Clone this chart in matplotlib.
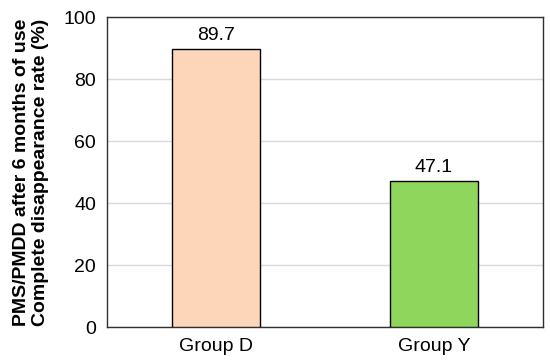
import matplotlib
matplotlib.use("Agg")
import matplotlib.pyplot as plt

categories = ["Group D", "Group Y"]
values = [89.7, 47.1]
colors = ["#FDD6BA", "#8FD65C"]
yticks = [0, 20, 40, 60, 80, 100]

plt.rcParams['font.family'] = ['Liberation Sans', 'DejaVu Sans']

fig = plt.figure(figsize=(5.5, 3.63), dpi=100)
ax = fig.add_axes([107/550, 1-327/363, 436/550, 310/363])
x = list(range(len(categories)))
bars = ax.bar(x, values, width=0.4, color=colors, edgecolor="black", linewidth=1.0, zorder=3)
for xi, v in zip(x, values):
    ax.text(xi, v + 1.6, f"{v:.1f}", ha="center", va="bottom", fontsize=14)
ax.set_xlim(-0.5, 1.5)
ax.set_ylim(0, 100)
ax.set_yticks(yticks)
ax.set_xticks(x)
ax.set_xticklabels(categories)
ax.tick_params(axis="both", length=0, labelsize=14)
ax.tick_params(axis="y", pad=8)
ax.tick_params(axis="x", pad=8)
ax.yaxis.grid(True, color="#D9D9D9", linewidth=1.0, zorder=0)
ax.set_axisbelow(True)
for s in ax.spines.values():
    s.set_color("#303030")
    s.set_linewidth(1.0)
ax.set_ylabel("PMS/PMDD after 6 months of use\nComplete disappearance rate (%)",
              fontsize=14, fontweight="bold", labelpad=10)
fig.savefig("out.png", dpi=100)
